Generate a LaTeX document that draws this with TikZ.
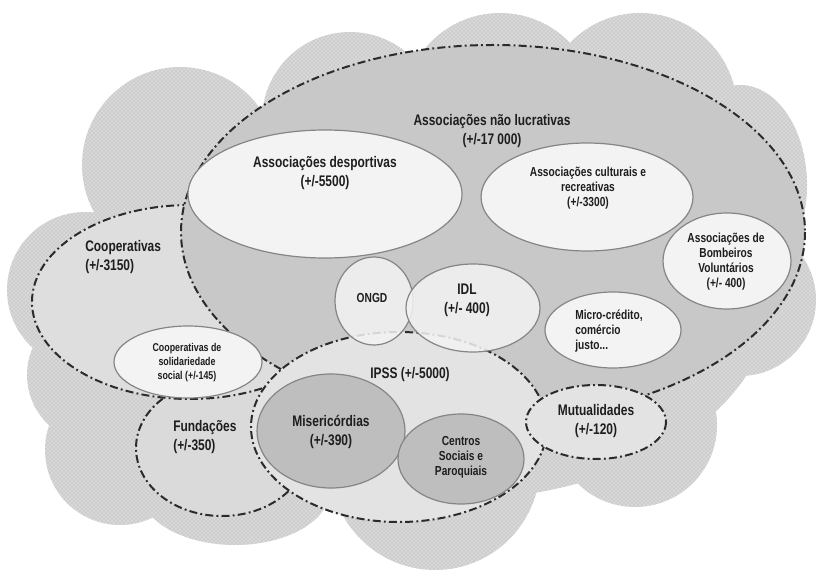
\documentclass[tikz,border=0pt]{standalone}
\usepackage{fontspec}
\setmainfont{Liberation Sans}[FakeStretch=0.78]
\usetikzlibrary{patterns}
\definecolor{cloudc}{HTML}{CDCDCD}
\definecolor{assocc}{HTML}{C8C8C8}
\definecolor{coopc}{HTML}{DEDEDE}
\definecolor{fundc}{HTML}{DADADA}
\definecolor{ipssc}{HTML}{E3E3E3}
\definecolor{whitec}{HTML}{F3F3F3}
\definecolor{darkc}{HTML}{BEBEBE}
\definecolor{edgec}{HTML}{858585}
\definecolor{dashc}{HTML}{2B2B2B}
\definecolor{textc}{HTML}{1E1E1E}
\begin{document}
\begin{tikzpicture}[x=0.75pt,y=-0.75pt,
 dashdot/.style={draw=dashc,line width=1.5pt,dash pattern=on 6pt off 2.4pt on 1.4pt off 2.4pt},
 innerline/.style={draw=edgec,line width=0.9pt},
 lblbig/.style={font=\bfseries\fontsize{11.5}{14}\selectfont,text=textc,align=center,inner sep=0pt},
 lblmid/.style={font=\bfseries\fontsize{9.8}{11.2}\selectfont,text=textc,align=center,inner sep=0pt},
 lblsmall/.style={font=\bfseries\fontsize{8.5}{10.5}\selectfont,text=textc,align=center,inner sep=0pt}]
\useasboundingbox (0,0) rectangle (816,573);
% cloud
\def\cloudpath{(180,165) circle [radius=98] (350,120) circle [radius=88]
  (500,110) circle [radius=97] (640,110) circle [radius=97]
  (740,185) ellipse [x radius=67, y radius=100] (740,300) circle [radius=76]
  (635,425) circle [radius=82] (435,465) circle [radius=105]
  (235,490) ellipse [x radius=95, y radius=55] (120,450) circle [radius=75]
  (95,375) circle [radius=68] (85,290) circle [radius=78]
  (450,300) ellipse [x radius=320, y radius=200]}
\fill[cloudc] \cloudpath;
\fill[pattern=crosshatch dots,pattern color=white] \cloudpath;
% Fundacoes, Cooperativas
\draw[dashdot,fill=fundc] (222,448) ellipse [x radius=86, y radius=68];
\draw[dashdot,fill=coopc] (190,302) ellipse [x radius=158, y radius=97];
% Associacoes nao lucrativas
\draw[dashdot,fill=assocc] (493,232) ellipse [x radius=312, y radius=187];
\draw[innerline,fill=whitec] (188,362) ellipse [x radius=74, y radius=36];
% IPSS, Mutualidades
\draw[dashdot,fill=ipssc] (399,427) ellipse [x radius=148, y radius=95];
\draw[dashdot,fill=ipssc] (596,422) ellipse [x radius=70, y radius=37];
% inner white ellipses
\draw[innerline,fill=whitec] (325,194) ellipse [x radius=137, y radius=64];
\draw[innerline,fill=whitec] (587,197) ellipse [x radius=106, y radius=54];
\draw[innerline,fill=whitec] (727,261) ellipse [x radius=64, y radius=48];
\draw[innerline,fill=whitec] (613,330) ellipse [x radius=68, y radius=38];
\draw[innerline,fill=whitec,fill opacity=0.85] (374,301) ellipse [x radius=39, y radius=44];
\draw[innerline,fill=whitec,fill opacity=0.85] (473,308) ellipse [x radius=67, y radius=44];
% dark ellipses
\draw[innerline,fill=darkc] (331,431) ellipse [x radius=74, y radius=57];
\draw[innerline,fill=darkc] (461,459) ellipse [x radius=63, y radius=45];
% labels
\node[lblbig] (assoc) at (492,131) {Associações não lucrativas\\(+/-17 000)};
\node[lblbig] (desp) at (325,173) {Associações desportivas\\(+/-5500)};
\node[lblmid] (cult) at (588,188) {Associações culturais e\\recreativas\\(+/-3300)};
\node[lblmid] (bomb) at (726,262) {Associações de\\Bombeiros\\Voluntários\\(+/- 400)};
\node[lblbig,anchor=west,align=left] (coop) at (85,257) {Cooperativas\\(+/-3150)};
\node[lblmid] (ongd) at (372,298) {ONGD};
\node[lblbig] (idl) at (467,300) {IDL\\(+/- 400)};
\node[lblmid,anchor=west,align=left] (micro) at (575,331) {Micro-crédito,\\comércio\\justo...};
\node[lblsmall] (coopsol) at (187,363) {Cooperativas de\\solidariedade\\social (+/-145)};
\node[lblbig] (ipss) at (410,375) {IPSS (+/-5000)};
\node[lblbig,anchor=west,align=left] (fund) at (173,437) {Fundações\\(+/-350)};
\node[lblbig] (miser) at (331,432) {Misericórdias\\(+/-390)};
\node[lblmid] (centros) at (461,457) {Centros\\Sociais e\\Paroquiais};
\node[lblbig] (mutu) at (596,421) {Mutualidades\\(+/-120)};
\end{tikzpicture}
\end{document}
